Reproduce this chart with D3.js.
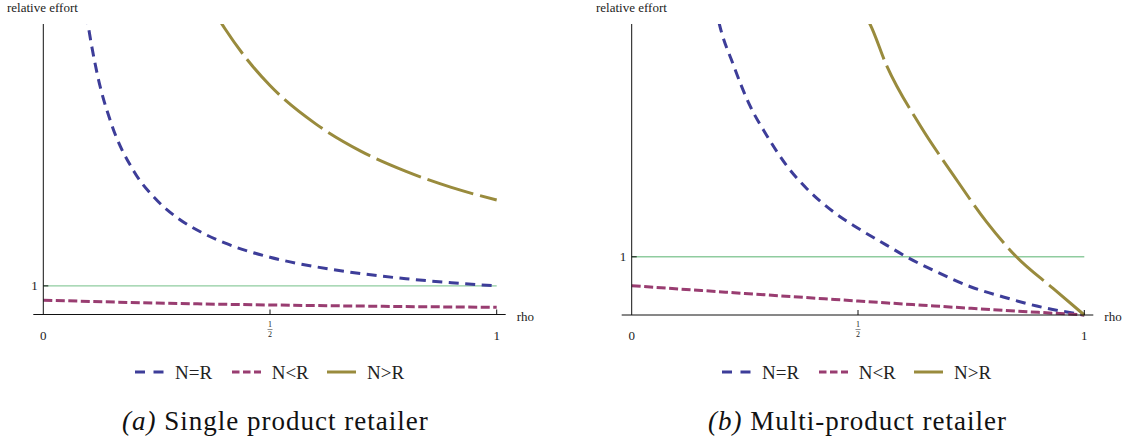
<!DOCTYPE html>
<html>
<head>
<meta charset="utf-8">
<script src="https://cdn.jsdelivr.net/npm/d3@7"></script>
<style>
  body { margin: 0; background: #fff; font-family: "Liberation Serif"; }
  svg { display: block; font-family: "Liberation Serif"; }
  svg text { font-family: "Liberation Serif"; }
</style>
</head>
<body>
<svg id="chart" width="1126" height="448" font-family="Liberation Serif"></svg>
<script>
// colors (mathematica defaults)
let blue = "#3d3d99";
let magenta = "#993d71";
let olive = "#998b3d";
let green = "#8fcc9f";

const seriesNames = ["N=R", "N<R", "N>R"];

// panel (a) single product retailer
const rhoA_eq = [0.095, 0.1, 0.12, 0.15, 0.2, 0.25, 0.3, 0.35, 0.4, 0.5, 0.6, 0.7, 0.8, 0.9, 1];
const effA_eq = [10.5, 10, 8.33, 6.67, 5, 4, 3.33, 2.86, 2.5, 2, 1.67, 1.43, 1.25, 1.11, 1];
const rhoA_lt = [0, 0.25, 0.5, 0.75, 1];
const effA_lt = [0.5, 0.4, 0.333, 0.286, 0.25];
const rhoA_gt = [0.38, 0.4, 0.45, 0.5, 0.6, 0.7, 0.8, 0.9, 1];
const effA_gt = [10.5, 10, 8.9, 8, 6.67, 5.71, 5, 4.44, 4];

// panel (b) multi-product retailer
const rhoB_eq = [0.185, 0.193, 0.225, 0.261, 0.298, 0.342, 0.387, 0.446, 0.5, 0.563, 0.607, 0.674, 0.747, 0.821, 0.895, 1];
const effB_eq = [5.3, 5.02, 4.29, 3.6, 3.09, 2.57, 2.17, 1.77, 1.49, 1.2, 1.0, 0.74, 0.49, 0.31, 0.154, 0];
const rhoB_lt = [0, 0.25, 0.5, 0.75, 1];
const effB_lt = [0.503, 0.37, 0.24, 0.115, 0];
const rhoB_gt = [0.515, 0.525, 0.563, 0.637, 0.711, 0.784, 0.85, 0.931, 1];
const effB_gt = [5.15, 5.02, 4.29, 3.26, 2.4, 1.6, 1.0, 0.457, 0];

const refRho = [0, 1];
const refEff = [1, 1];

const xTicks = [0, 0.5, 1];
const yTicks = [1];

const zip = (xs, ys) => xs.map((x, i) => ({ x: x, y: ys[i] }));

const panels = [
  {
    id: "a",
    left: 43.3, right: 496.7, top: 24, bottom: 314.5, yMax: 10.15,
    caption: ["(a)", " Single product retailer"], captionX: 122,
    labelX: 7, legendX: 135,
    series: [
      { name: "N=R", color: blue, dash: "10,6.5", data: zip(rhoA_eq, effA_eq) },
      { name: "N<R", color: magenta, dash: "9,3.5", data: zip(rhoA_lt, effA_lt) },
      { name: "N>R", color: olive, dash: "48,7", data: zip(rhoA_gt, effA_gt) },
    ],
  },
  {
    id: "b",
    left: 631.7, right: 1084.3, top: 24, bottom: 315, yMax: 5,
    caption: ["(b)", " Multi-product retailer"], captionX: 708,
    labelX: 596, legendX: 722,
    series: [
      { name: "N=R", color: blue, dash: "10,6.5", data: zip(rhoB_eq, effB_eq) },
      { name: "N<R", color: magenta, dash: "9,3.5", data: zip(rhoB_lt, effB_lt) },
      { name: "N>R", color: olive, dash: "48,7", data: zip(rhoB_gt, effB_gt) },
    ],
  },
];

const svg = d3.select("#chart");

panels.forEach((p) => drawPanel(p));

function addText(sel, size) {
  return sel.append("text")
    .attr("font-family", "Liberation Serif")
    .attr("font-size", size)
    .attr("fill", "#222")
    .attr("style", `font-family: "Liberation Serif"; font-size: ${size}px`);
}

function drawPanel(p) {
  const x = d3.scaleLinear().domain([0, 1]).range([p.left, p.right]);
  const y = d3.scaleLinear().domain([0, p.yMax]).range([p.bottom, p.top]);

  const g = svg.append("g").attr("class", "panel-" + p.id);

  g.append("clipPath")
    .attr("id", "clip-" + p.id)
    .append("rect")
    .attr("x", p.left - 12)
    .attr("y", p.top)
    .attr("width", p.right - p.left + 24)
    .attr("height", p.bottom - p.top + 4);

  const line = d3.line()
    .x((d) => x(d.x))
    .y((d) => y(d.y))
    .curve(d3.curveMonotoneX);

  // reference line at 1
  g.append("path")
    .attr("d", line(zip(refRho, refEff)))
    .attr("fill", "none")
    .attr("stroke", green)
    .attr("stroke-width", 1.4);

  // curves
  const curves = g.append("g").attr("clip-path", `url(#clip-${p.id})`);
  p.series.forEach((s) => {
    curves.append("path")
      .attr("d", line(s.data))
      .attr("fill", "none")
      .attr("stroke", s.color)
      .attr("stroke-width", 3)
      .attr("stroke-dasharray", s.dash);
  });

  // axes
  g.append("line")
    .attr("x1", p.left - 10).attr("x2", p.right + 9)
    .attr("y1", p.bottom).attr("y2", p.bottom)
    .attr("stroke", "#111").attr("stroke-width", 1);
  g.append("line")
    .attr("x1", p.left).attr("x2", p.left)
    .attr("y1", p.top).attr("y2", p.bottom)
    .attr("stroke", "#111").attr("stroke-width", 1);

  // x ticks
  g.selectAll(".xtick")
    .data(xTicks.filter((t) => t > 0))
    .enter()
    .append("line")
    .attr("x1", (d) => x(d)).attr("x2", (d) => x(d))
    .attr("y1", p.bottom).attr("y2", p.bottom - 5)
    .attr("stroke", "#111");

  xTicks.forEach((t) => {
    if (t === 0.5) {
      const fx = x(t);
      addText(g, 8).attr("x", fx).attr("y", 327).attr("text-anchor", "middle").text("1");
      g.append("line").attr("x1", fx - 2.5).attr("x2", fx + 2.5).attr("y1", 329.5).attr("y2", 329.5)
        .attr("stroke", "#444").attr("stroke-width", 0.6);
      addText(g, 8).attr("x", fx).attr("y", 337).attr("text-anchor", "middle").text("2");
    } else {
      addText(g, 13).attr("x", x(t)).attr("y", 340).attr("text-anchor", "middle").text(t);
    }
  });

  // y ticks
  yTicks.forEach((t) => {
    g.append("line")
      .attr("x1", p.left).attr("x2", p.left + 5)
      .attr("y1", y(t)).attr("y2", y(t))
      .attr("stroke", "#111");
    addText(g, 13)
      .attr("x", p.left - 5.5).attr("y", y(t) + 4.5)
      .attr("text-anchor", "end")
      .text(t);
  });

  // axis labels
  addText(g, 13)
    .attr("x", p.labelX).attr("y", 12)
    .text("relative effort");
  addText(g, 13)
    .attr("x", p.right + 20).attr("y", 320.5)
    .text("rho");

  // legend
  const legendItems = [
    { name: seriesNames[0], color: blue, dash: "10,8.5", dx: 0, tx: 40 },
    { name: seriesNames[1], color: magenta, dash: "7.5,3.5", dx: 97, tx: 136.7 },
    { name: seriesNames[2], color: olive, dash: null, dx: 192, tx: 232 },
  ];
  const ly = 372;
  legendItems.forEach((it) => {
    g.append("line")
      .attr("x1", p.legendX + it.dx).attr("x2", p.legendX + it.dx + 29)
      .attr("y1", ly).attr("y2", ly)
      .attr("stroke", it.color).attr("stroke-width", 3)
      .attr("stroke-dasharray", it.dash);
    addText(g, 19)
      .attr("x", p.legendX + it.tx).attr("y", ly + 6.5)
      .text(it.name);
  });

  // caption
  const cap = addText(g, 27)
    .attr("fill", "#111")
    .attr("letter-spacing", 1)
    .attr("x", p.captionX).attr("y", 430);
  cap.append("tspan").attr("font-style", "italic").text(p.caption[0]);
  cap.append("tspan").text(p.caption[1]);
}
</script>
</body>
</html>
